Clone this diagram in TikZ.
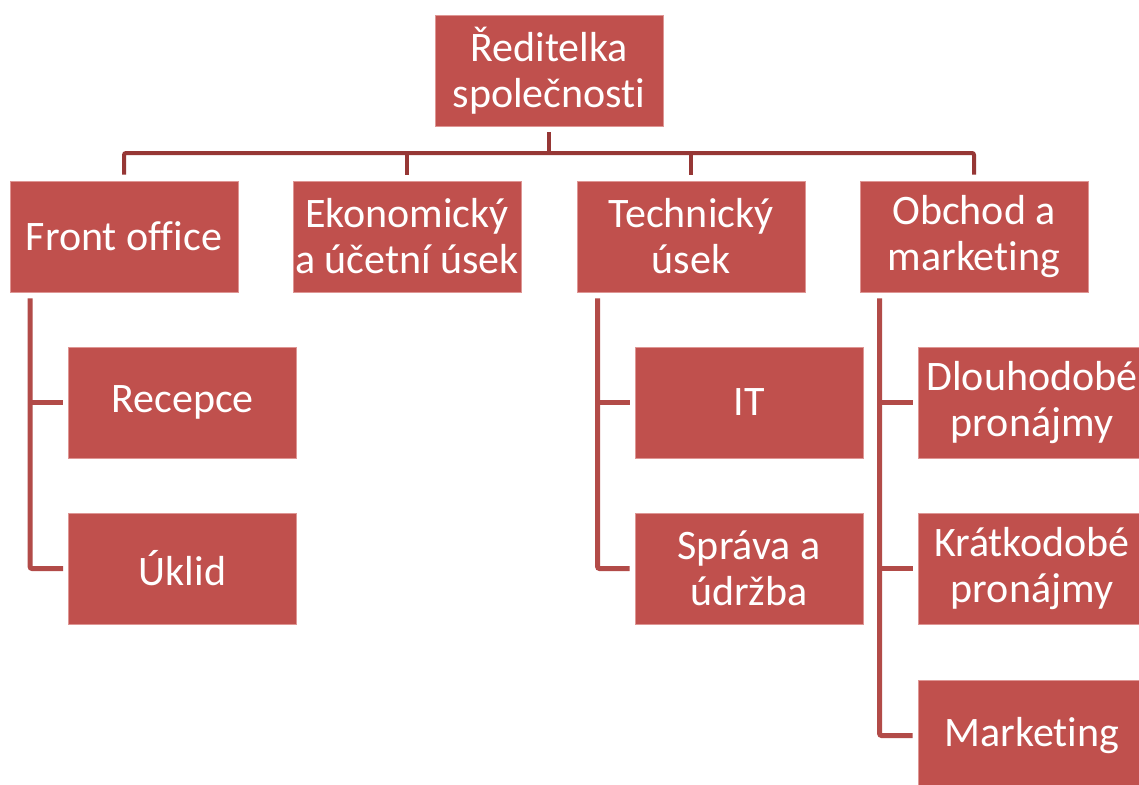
\documentclass[tikz,border=0pt]{standalone}
\usepackage{fontspec}
\setmainfont{Carlito}[Ligatures=NoCommon]
\usetikzlibrary{calc}
\definecolor{boxred}{RGB}{192,80,77}
\definecolor{boxedge}{RGB}{222,150,148}
\definecolor{busred}{RGB}{150,55,53}
\definecolor{subred}{RGB}{178,75,72}
\tikzset{
  box/.style={rectangle, fill=boxred, draw=boxedge, line width=0.8pt,
    minimum width=228pt, minimum height=111pt, inner sep=0pt,
    text=white, align=center, font=\fontsize{42}{46}\selectfont},
  bus/.style={draw=busred, line width=4pt},
  sub/.style={draw=subred, line width=5pt},
}
\begin{document}
\begin{tikzpicture}[x=1pt,y=-1pt]
\clip (0,0) rectangle (1139,784);
\fill[white] (0,0) rectangle (1139,784);
% nodes
\node[box] (top) at (549,70.5) {Ředitelka\\společnosti};
\node[box] (fo) at (124,236.5) {Front office};
\node[box] (ek) at (407,236.5) {Ekonomický\\a účetní úsek};
\node[box] (te) at (691,236.5) {Technický\\úsek};
\node[box] (om) at (974,236.5) {Obchod a\\marketing};
\node[box] (rec) at (182.5,402.5) {Recepce};
\node[box] (uk) at (182.5,568.5) {Úklid};
\node[box] (it) at (749,402.5) {IT};
\node[box] (sp) at (749,568.5) {Správa a\\údržba};
\node[box] (dl) at (1032,402.5) {Dlouhodobé\\pronájmy};
\node[box] (kr) at (1032,568.5) {Krátkodobé\\pronájmy};
\node[box] (ma) at (1032,735.5) {Marketing};
% bus
\coordinate (busy) at (0,153);
\draw[bus] ([yshift=-6pt]top.south) -- (top.south |- busy);
\draw[bus, rounded corners=2pt] ([yshift=6pt]fo.north) -- (fo.north |- busy) -- (om.north |- busy) -- ([yshift=6pt]om.north);
\draw[bus] (ek.north |- busy) -- ([yshift=6pt]ek.north);
\draw[bus] (te.north |- busy) -- ([yshift=6pt]te.north);
% sub-trees
\coordinate (foL) at ($(fo.south west)+(20.5,6)$);
\draw[sub, rounded corners=2pt] (foL) |- ([xshift=-5pt]uk.west);
\draw[sub] (foL |- rec.west) -- ([xshift=-5pt]rec.west);
\coordinate (teL) at ($(te.south west)+(21,6)$);
\draw[sub, rounded corners=2pt] (teL) |- ([xshift=-5pt]sp.west);
\draw[sub] (teL |- it.west) -- ([xshift=-5pt]it.west);
\coordinate (omL) at ($(om.south west)+(20,6)$);
\draw[sub, rounded corners=2pt] (omL) |- ([xshift=-5pt]ma.west);
\draw[sub] (omL |- dl.west) -- ([xshift=-5pt]dl.west);
\draw[sub] (omL |- kr.west) -- ([xshift=-5pt]kr.west);
\end{tikzpicture}
\end{document}
